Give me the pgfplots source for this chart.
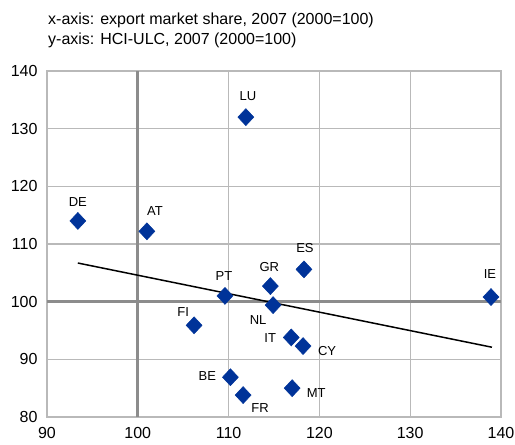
\documentclass[border=0pt]{standalone}
\usepackage{fontspec}
\setmainfont{Liberation Sans}
\usepackage{pgfplots}
\usepackage{pgfplotstable}
\pgfplotsset{compat=1.18}
\definecolor{mk}{RGB}{0,51,153}
\definecolor{gr}{RGB}{185,185,185}
\definecolor{dg}{RGB}{140,140,140}
\pgfplotstableread{
x y lab dx dy
93.4 114.0 DE 0 19
101.0 112.2 AT 8 20
111.9 132.0 LU 2 21
118.3 105.6 ES 1 21
114.6 102.7 GR -1 19
109.6 101.0 PT -1 20
138.9 100.8 IE -1 23
114.9 99.4 NL -15 -15
106.2 95.9 FI -11 13
116.9 93.8 IT -21 -1
118.2 92.3 CY 24 -5
110.2 86.9 BE -23 1
111.6 83.8 FR 17 -13
117.0 85.0 MT 24 -5
}\pts
\begin{document}
\begin{tikzpicture}[x=1pt,y=1pt]
\useasboundingbox (-47,-28) rectangle (468,417);
\node[anchor=base west, font=\fontsize{16}{18}\selectfont, inner sep=0pt] at (1,392) {x-axis: export market share, 2007 (2000=100)};
\node[anchor=base west, font=\fontsize{16}{18}\selectfont, inner sep=0pt] at (1,372) {y-axis: HCI-ULC, 2007 (2000=100)};
\begin{axis}[at={(0,0)}, anchor=south west, scale only axis, width=454pt, height=346pt,
  xmin=90, xmax=140, ymin=80, ymax=140,
  xtick={90,100,...,140}, ytick={80,90,...,140},
  grid=major, major grid style={gr, line width=1.3pt},
  axis line style={gr, line width=1.3pt}, tick style={draw=none},
  ticklabel style={font=\fontsize{16}{18}\selectfont},
  /pgf/number format/assume math mode=true,
  xticklabel style={yshift=-7pt},
  yticklabel style={xshift=-6pt},
  clip=false]
\draw[dg, line width=2.6pt] (axis cs:100,80) -- (axis cs:100,140);
\draw[dg, line width=2.6pt] (axis cs:90,100) -- (axis cs:140,100);
\addplot[black, line width=1.5pt] coordinates {(93.4,106.7) (139,92.1)};
\addplot[only marks, mark=diamond*, mark size=8.5pt, mark options={draw=mk, fill=mk, line width=0.5pt, xscale=1.25},
  point meta=explicit symbolic, nodes near coords,
  visualization depends on={\thisrow{dx}\as\dx},
  visualization depends on={\thisrow{dy}\as\dy},
  every node near coord/.append style={font=\fontsize{13}{15}\selectfont, text=black, anchor=center, xshift=\dx pt, yshift=\dy pt}]
  table[x=x, y=y, meta=lab]{\pts};
\end{axis}
\end{tikzpicture}
\end{document}
